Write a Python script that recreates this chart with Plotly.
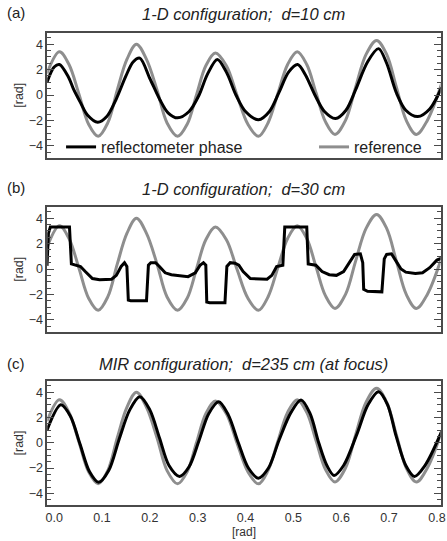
import plotly.graph_objects as go

# ---------------- data ----------------
ref_x = [-0.015, 0.011, 0.031, 0.0515, 0.072, 0.092, 0.112, 0.132, 0.152, 0.172,
         0.193, 0.215, 0.236, 0.258, 0.278, 0.2975, 0.317, 0.337, 0.36, 0.382,
         0.405, 0.427, 0.447, 0.4675, 0.488, 0.508, 0.528, 0.5475, 0.567, 0.587,
         0.609, 0.63, 0.652, 0.674, 0.695, 0.7155, 0.736, 0.757, 0.78, 0.81]
ref_y = [1.7, 3.4, 2.4, 0.1, -2.3, -3.25, -2.2, 0.4, 2.8, 4.0,
         2.8, 0.4, -2.2, -3.25, -2.3, 0.0, 2.3, 3.3, 2.3, 0.0,
         -2.3, -3.25, -2.2, 0.1, 2.4, 3.4, 2.4, 0.15, -2.1, -3.1,
         -2.0, 0.6, 3.2, 4.3, 3.2, 0.6, -2.0, -3.1, -2.0, 0.9]

a_x = [-0.015, 0.0, 0.011, 0.03, 0.04, 0.055, 0.07, 0.091, 0.11, 0.13,
       0.15, 0.165, 0.179, 0.2, 0.221, 0.238, 0.258, 0.282, 0.303, 0.32,
       0.341, 0.36, 0.38, 0.40, 0.427, 0.45, 0.47, 0.49, 0.509, 0.525,
       0.545, 0.565, 0.588, 0.61, 0.63, 0.655, 0.678, 0.695, 0.715, 0.735,
       0.76, 0.785, 0.81]
a_y = [1.0, 2.2, 2.4, 1.4, 0.5, -0.6, -1.6, -2.15, -1.7, -0.3,
       1.5, 2.6, 2.9, 1.3, -0.37, -1.4, -1.8, -1.3, 0.0, 1.6,
       2.8, 1.8, 0.0, -1.3, -1.95, -1.3, 0.2, 1.8, 2.4, 1.6,
       0.0, -1.3, -1.85, -1.2, 0.4, 2.6, 3.65, 2.5, 0.2, -1.2,
       -1.7, -1.1, 0.6]

b_x = [-0.015, -0.012, -0.008, 0.032, 0.036, 0.045, 0.055, 0.065, 0.08, 0.095,
       0.12, 0.13, 0.14, 0.147, 0.152, 0.155, 0.16, 0.193, 0.197, 0.202,
       0.212, 0.22, 0.232, 0.245, 0.28, 0.295, 0.305, 0.312, 0.317, 0.319,
       0.325, 0.357, 0.361, 0.368, 0.378, 0.386, 0.395, 0.41, 0.445, 0.455,
       0.465, 0.478, 0.482, 0.528, 0.531, 0.547, 0.56, 0.575, 0.59, 0.605,
       0.618, 0.628, 0.64, 0.645, 0.647, 0.655, 0.685, 0.69, 0.695, 0.705,
       0.715, 0.725, 0.735, 0.755, 0.77, 0.785, 0.8, 0.81]
b_y = [0.25, 2.8, 3.3, 3.3, 0.4, 0.3, 0.2, -0.2, -0.75, -0.85,
       -0.8, -0.5, 0.2, 0.5, 0.2, -2.45, -2.5, -2.5, 0.3, 0.5,
       0.5, 0.2, -0.3, -0.45, -0.6, -0.3, 0.3, 0.5, 0.3, -2.6,
       -2.65, -2.65, 0.2, 0.5, 0.45, 0.3, -0.2, -0.75, -0.8, -0.5,
       0.2, 0.3, 3.3, 3.3, 0.4, 0.3, -0.2, -0.45, -0.5, -0.2,
       0.6, 1.15, 1.2, 0.5, -1.6, -1.75, -1.8, 0.8, 1.15, 1.2,
       0.6, 0.0, -0.25, -0.35, -0.3, 0.1, 0.7, 0.85]

c_x = [-0.015, 0.014, 0.034, 0.054, 0.074, 0.093, 0.114, 0.136, 0.158, 0.179,
       0.2, 0.22, 0.24, 0.262, 0.282, 0.303, 0.323, 0.344, 0.364, 0.385,
       0.406, 0.427, 0.448, 0.47, 0.495, 0.516, 0.535, 0.553, 0.57, 0.585,
       0.605, 0.632, 0.656, 0.678, 0.697, 0.715, 0.735, 0.753, 0.775, 0.81]
c_y = [1.0, 3.0, 2.1, -0.1, -2.3, -3.13, -2.2, 0.3, 2.6, 3.64,
       2.6, 0.4, -1.8, -2.66, -1.9, 0.2, 2.3, 3.24, 2.2, 0.0,
       -2.0, -2.8, -2.0, 0.2, 2.4, 3.38, 2.3, 0.0, -1.8, -2.58,
       -1.8, 0.6, 3.0, 4.03, 3.0, 0.5, -1.8, -2.66, -1.8, 0.9]

panel_labels = ["(a)", "(b)", "(c)"]
panel_titles = ["1-D configuration;  d=10 cm",
                "1-D configuration;  d=30 cm",
                "MIR configuration;  d=235 cm (at focus)"]
x_ticks = [0.0, 0.1, 0.2, 0.3, 0.4, 0.5, 0.6, 0.7, 0.8]
x_tick_text = ["0.0", "0.1", "0.2", "0.3", "0.4", "0.5", "0.6", "0.7", "0.8"]
y_ticks = [-4, -2, 0, 2, 4]
legend_names = ["reflectometer phase", "reference"]

# ---------------- layout geometry ----------------
W, H = 447, 541
FONT = "Liberation Sans, Arial, Helvetica, sans-serif"
GRAY = "#8e8e8e"
FRAME = "#4a4a4a"
x0_px, x1_px = 46, 445.5
panels_px = [(32.5, 157.5), (206.5, 331.5), (380.5, 505.0)]
title_y_px = [14, 189, 364]


def py(p):
    return 1 - p / H


fig = go.Figure()
black_sets = [(a_x, a_y), (b_x, b_y), (c_x, c_y)]
for i in range(3):
    xa = "x" if i == 0 else f"x{i+1}"
    ya = "y" if i == 0 else f"y{i+1}"
    fig.add_trace(go.Scatter(
        x=ref_x, y=ref_y, mode="lines", xaxis=xa, yaxis=ya,
        line=dict(color=GRAY, width=3, shape="spline", smoothing=1.0),
        name=legend_names[1], showlegend=(i == 0), legend="legend2"))
    bx, by = black_sets[i]
    shape = "linear" if i == 1 else "spline"
    fig.add_trace(go.Scatter(
        x=bx, y=by, mode="lines", xaxis=xa, yaxis=ya,
        line=dict(color="black", width=3, shape=shape, smoothing=0.9),
        name=legend_names[0], showlegend=(i == 0), legend="legend"))

layout = dict(
    width=W, height=H, margin=dict(l=0, r=0, t=0, b=0),
    paper_bgcolor="white", plot_bgcolor="white",
    font=dict(family=FONT, color="#222", size=12),
    legend=dict(x=60 / W, y=py(147), xanchor="left", yanchor="middle",
                orientation="h", bgcolor="rgba(0,0,0,0)",
                font=dict(size=16, family=FONT, color="#222")),
    legend2=dict(x=317 / W, y=py(147), xanchor="left", yanchor="middle",
                 orientation="h", bgcolor="rgba(0,0,0,0)",
                 font=dict(size=16, family=FONT, color="#222")),
)
annotations = []
for i, (top, bot) in enumerate(panels_px):
    xk = "xaxis" if i == 0 else f"xaxis{i+1}"
    yk = "yaxis" if i == 0 else f"yaxis{i+1}"
    ya = "y" if i == 0 else f"y{i+1}"
    xa = "x" if i == 0 else f"x{i+1}"
    layout[xk] = dict(
        domain=[x0_px / W, x1_px / W], anchor=ya,
        range=[-0.0144, 0.8076], showgrid=False, zeroline=False,
        showline=True, mirror=True, linecolor=FRAME, linewidth=1.5,
        ticks="", ticklen=0, tickvals=x_ticks, ticktext=x_tick_text,
        ticklabeloverflow="allow",
        showticklabels=(i == 2), tickfont=dict(size=12.5, color="#333"))
    layout[yk] = dict(
        domain=[py(bot), py(top)], anchor=xa,
        range=[-4.92, 4.92], showgrid=False, zeroline=False,
        showline=True, mirror="ticks", linecolor=FRAME, linewidth=1.5,
        ticks="inside", ticklen=7, tickwidth=1, tickcolor=FRAME,
        tickvals=y_ticks, tickfont=dict(size=12.5, color="#333"),
        minor=dict(ticks="inside", ticklen=4, dtick=0.5, tickcolor=FRAME,
                   tickwidth=1))
    annotations.append(dict(
        x=(x0_px + x1_px) / 2 / W, y=py(title_y_px[i]), xref="paper",
        yref="paper", text="<i>" + panel_titles[i] + "</i>", showarrow=False,
        xanchor="center", yanchor="middle",
        font=dict(size=16.5, family=FONT, color="#222")))
    annotations.append(dict(
        x=3 / W, y=py(title_y_px[i] - 1), xref="paper", yref="paper",
        text=panel_labels[i], showarrow=False, xanchor="left",
        yanchor="middle", font=dict(size=15, family=FONT, color="#222")))
    annotations.append(dict(
        x=17 / W, y=py((top + bot) / 2), xref="paper", yref="paper",
        text="[rad]", textangle=-90, showarrow=False, xanchor="center",
        yanchor="middle", font=dict(size=12.5, family=FONT, color="#333")))
annotations.append(dict(
    x=(x0_px + x1_px) / 2 / W, y=py(532), xref="paper", yref="paper",
    text="[rad]", showarrow=False, xanchor="center", yanchor="middle",
    font=dict(size=12, family=FONT, color="#333")))
layout["annotations"] = annotations
fig.update_layout(**layout)
fig.write_html(
    "out.html",
    config={"displayModeBar": False},
    post_script="document.body.style.margin='0px';"
                "document.body.style.padding='0px';"
                "document.body.style.overflow='hidden';")
